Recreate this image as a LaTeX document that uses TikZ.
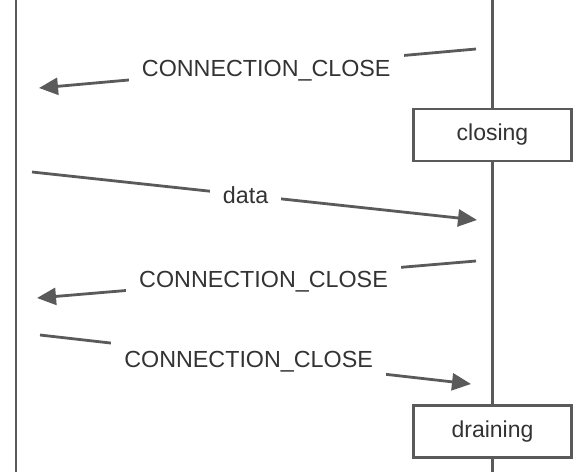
\documentclass[tikz,border=0pt]{standalone}
\usepackage{fontspec}
\setmainfont{Liberation Sans}
\usepackage{tikz}
\usetikzlibrary{arrows.meta,positioning,calc}
\definecolor{linegray}{HTML}{5A5A5A}
\definecolor{textgray}{HTML}{333333}

\begin{document}
\begin{tikzpicture}[
    x=1pt, y=-1pt,
    state/.style={rectangle, draw=linegray, line width=2.8pt, fill=white, minimum width=158pt, minimum height=52pt, font=\fontsize{23}{27}\selectfont, text=textgray},
    msg/.style={-{Triangle[length=19pt,width=17pt]}, line width=2.8pt, draw=linegray},
    lbl/.style={fill=white, inner xsep=13pt, inner ysep=9pt, text height=16.7pt, text depth=0pt, font=\fontsize{23.3}{27}\selectfont, text=textgray}
]
    \useasboundingbox (0,0) rectangle (581,472);

    % lifelines
    \coordinate (ltop) at (16,0);
    \coordinate (lbot) at (16,472);
    \coordinate (rtop) at (492.5,0);
    \coordinate (rbot) at (492.5,472);
    \draw[linegray, line width=2.8pt] (ltop) -- (lbot);
    \draw[linegray, line width=2.8pt] (rtop) -- (rbot);

    % states on the right side
    \node[state] (closing) at (492.5,135) {closing};
    \node[state] (draining) at (492.5,431.5) {draining};

    % message end points
    \coordinate (m1s) at (476,49);
    \coordinate (m1e) at (39,88);
    \coordinate (m2s) at (32,172);
    \coordinate (m2e) at (477,220);
    \coordinate (m3s) at (476,261);
    \coordinate (m3e) at (37,298);
    \coordinate (m4s) at (40,335);
    \coordinate (m4e) at (471,384);

    \draw[msg] (m1s) -- node[lbl, pos=0.48] (close1) {CONNECTION\_CLOSE} (m1e);
    \draw[msg] (m2s) -- node[lbl, pos=0.48] (data) {data} (m2e);
    \draw[msg] (m3s) -- node[lbl, pos=0.484] (close2) {CONNECTION\_CLOSE} (m3e);
    \draw[msg] (m4s) -- node[lbl, pos=0.484] (close3) {CONNECTION\_CLOSE} (m4e);
\end{tikzpicture}
\end{document}
